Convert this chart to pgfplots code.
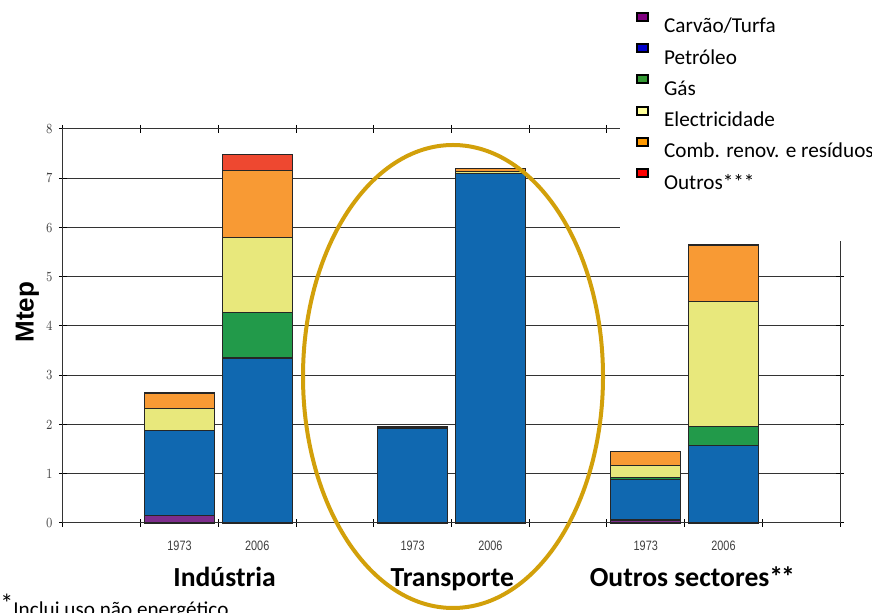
\documentclass[border=0pt]{standalone}
\usepackage{pgfplots}
\pgfplotsset{compat=1.18}
\usepackage{pgfplotstable}
\usepackage{fontspec}
\setmainfont{Carlito}
\newfontfamily\arialfont{Liberation Sans}

% bar fills
\definecolor{cCarvao}{RGB}{125,45,140}
\definecolor{cPetroleo}{RGB}{16,104,176}
\definecolor{cGas}{RGB}{34,154,74}
\definecolor{cElec}{RGB}{232,232,124}
\definecolor{cComb}{RGB}{248,154,52}
\definecolor{cOutros}{RGB}{238,72,48}
% legend swatches
\definecolor{lCarvao}{RGB}{128,0,128}
\definecolor{lPetroleo}{RGB}{0,0,204}
\definecolor{lGas}{RGB}{51,153,51}
\definecolor{lElec}{RGB}{255,255,153}
\definecolor{lComb}{RGB}{255,153,0}
\definecolor{lOutros}{RGB}{255,0,0}
\definecolor{ring}{RGB}{210,160,10}

\tikzset{sector/.style={anchor=base, font=\bfseries\fontsize{13.8}{16}\selectfont, yshift=-32pt}}

% final consumption by sector (Mtep); x = bar position
\pgfplotstableread{
x   carvao petroleo gas  elec comb outros
1.5 0.15   1.73     0    0.44 0.32 0
2.5 0      3.35     0.92 1.53 1.35 0.33
4.5 0      1.93     0    0.03 0    0
5.5 0      7.10     0    0.03 0.07 0
7.5 0.06   0.83     0.03 0.25 0.28 0
8.5 0      1.58     0.38 2.53 1.15 0.02
}\consumo

\begin{document}
\begin{tikzpicture}
\useasboundingbox (0,0) rectangle (436pt,-306.5pt);
\begin{axis}[
  at={(31.5pt,-261.5pt)}, anchor=south west,
  scale only axis, width=388.5pt, height=197pt,
  xmin=0, xmax=10, ymin=0, ymax=8, clip=false,
  ybar stacked, bar width=0.9,
  xtick={0,...,10}, xticklabels={},
  extra x ticks={1.5,2.5,4.5,5.5,7.5,8.5},
  extra x tick labels={1973,2006,1973,2006,1973,2006},
  extra x tick style={major tick length=0pt, grid=none,
    xticklabel style={yshift=-5.5pt}},
  ytick={0,...,8},
  ymajorgrids, grid style={black!80, line width=0.5pt},
  tick align=center, major tick length=4pt,
  tick style={black, line width=0.5pt},
  axis line style={black!80, line width=0.5pt},
  ticklabel style={font=\arialfont\fontsize{6.8}{8}\selectfont, xscale=0.8, text=black!75},
  yticklabel style={xshift=-0.5pt},
  every axis plot/.append style={draw=black!85, line width=0.6pt},
]
\addplot[fill=cCarvao]   table[x=x, y=carvao]   {\consumo};
\addplot[fill=cPetroleo] table[x=x, y=petroleo] {\consumo};
\addplot[fill=cGas]      table[x=x, y=gas]      {\consumo};
\addplot[fill=cElec]     table[x=x, y=elec]     {\consumo};
\addplot[fill=cComb]     table[x=x, y=comb]     {\consumo};
\addplot[fill=cOutros]   table[x=x, y=outros]   {\consumo};

\node[sector] at (axis cs:2.08,0) {Indústria};
\node[sector] at (axis cs:5.01,0) {Transporte};
\node[sector] at (axis cs:8.1,0) {Outros sectores*\kern-1pt*};
\end{axis}

% y label
\node[rotate=90, font=\arialfont\bfseries\fontsize{13}{15}\selectfont] at (13.75pt,-156pt) {Mtep};

% highlight around the transport sector
\draw[ring, line width=2pt] (226.5pt,-188.25pt) ellipse [x radius=75pt, y radius=115.75pt];

% legend panel
\fill[white] (310pt,0pt) rectangle (436pt,-120.5pt);
\begin{axis}[
  at={(31.5pt,-261.5pt)}, anchor=south west,
  scale only axis, width=388.5pt, height=197pt,
  hide axis, xmin=0, xmax=1, ymin=0, ymax=1,
  legend cell align=left,
  legend style={at={(0.737,1.298)}, anchor=north west, draw=none, fill=none,
    font=\fontsize{10.6}{12}\selectfont, row sep=1.7pt, inner sep=0pt},
  legend image code/.code={%
    \path[draw=none, fill=none] (0pt,0pt) rectangle (11.5pt,1pt);
    \draw[#1, draw=black, line width=1pt] (0pt,3pt) rectangle (5.5pt,7pt);},
]
\addlegendimage{fill=lCarvao}   \addlegendentry{Carvão/Turfa}
\addlegendimage{fill=lPetroleo} \addlegendentry{Petróleo}
\addlegendimage{fill=lGas}      \addlegendentry{Gás}
\addlegendimage{fill=lElec}     \addlegendentry{Electricidade}
\addlegendimage{fill=lComb}     \addlegendentry{Comb. renov. e resíduos}
\addlegendimage{fill=lOutros}   \addlegendentry{Outros***}
\end{axis}

% footnote
\node[anchor=base west, inner sep=0pt, font=\fontsize{10.6}{12}\selectfont] at (0pt,-308.5pt) {\raisebox{2pt}{\fontsize{13}{14}\selectfont*}Inclui uso não energético};
\end{tikzpicture}
\end{document}
